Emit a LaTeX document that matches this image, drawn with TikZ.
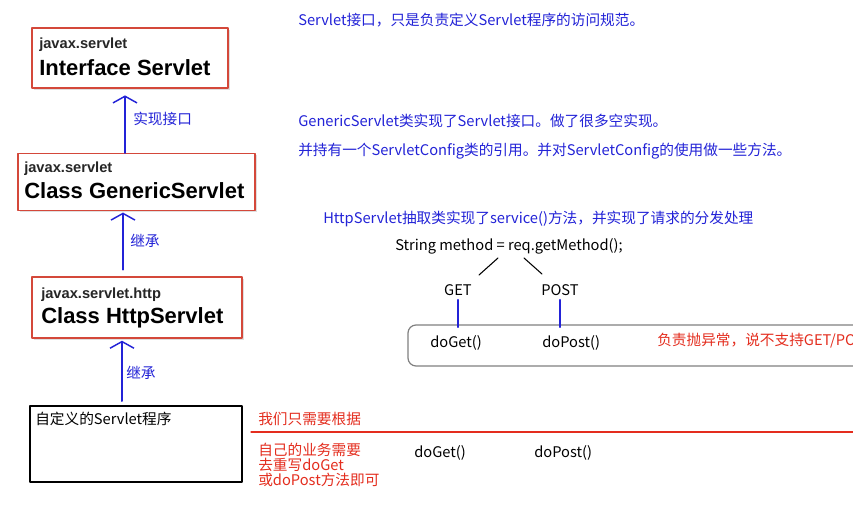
\documentclass[tikz,border=0pt]{standalone}
\usepackage{fontspec}
\setmainfont{Liberation Sans}
\newfontfamily\cjk{Noto Sans CJK SC}
\usetikzlibrary{arrows.meta,shadows}

\definecolor{noteblue}{RGB}{35,35,215}
\definecolor{notered}{RGB}{228,45,30}
\definecolor{boxred}{RGB}{212,72,58}

\begin{document}
\begin{tikzpicture}[x=0.75pt,y=-0.75pt,line cap=round,line join=round,
  classbox/.style={draw=boxred,line width=1.1pt,fill=white,inner sep=0pt,
    drop shadow={opacity=0.25,shadow xshift=1.5pt,shadow yshift=-1.5pt}},
  pkg/.style={anchor=base west,inner sep=0pt,text=black!85,font=\bfseries\fontsize{11}{12}\selectfont},
  cls/.style={anchor=base west,inner sep=0pt,font=\bfseries\fontsize{16.5}{19}\selectfont},
  note/.style={anchor=west,inner sep=0pt,font=\cjk\fontsize{11}{12}\selectfont},
  inh/.style={-{Straight Barb[length=5pt,width=18pt,line width=1.1pt]},noteblue,line width=1.5pt},
  vline/.style={noteblue,line width=1.4pt}]
  \useasboundingbox (0,0) rectangle (853,516);
  \clip (0,0) rectangle (853,516);
  \fill[white] (0,0) rectangle (853,516);

  % class hierarchy
  \node[classbox,minimum width=147pt,minimum height=45pt] (servlet) at (130,58) {};
  \node[pkg] (servletpkg) at (39,49) {javax.servlet};
  \node[cls] (servletname) at (39,76) {Interface Servlet};

  \node[classbox,minimum width=177.75pt,minimum height=42.75pt] (generic) at (136.5,182) {};
  \node[pkg] (genericpkg) at (24,173) {javax.servlet};
  \node[cls] (genericname) at (24,199) {Class GenericServlet};

  \node[classbox,minimum width=157.5pt,minimum height=45.75pt] (http) at (137,307.5) {};
  \node[pkg] (httppkg) at (41,299) {javax.servlet.http};
  \node[cls] (httpname) at (41,324) {Class HttpServlet};

  \node[draw=black,line width=1.5pt,minimum width=159pt,minimum height=57pt] (custom) at (136,444) {};
  \node[note] (customname) at (35,419) {自定义的Servlet程序};

  \coordinate (a1) at (125,0);
  \coordinate (a2) at (123,0);
  \coordinate (a3) at (122,0);
  \draw[inh,shorten >=5pt] (generic.north -| a1) -- (servlet.south -| a1);
  \draw[inh,shorten <=5pt,shorten >=1pt] (http.north -| a2) -- (generic.south -| a2);
  \draw[inh,shorten <=3pt,shorten >=1.5pt] (custom.north -| a3) -- (http.south -| a3);
  \node[note,noteblue] (impl) at (133,119) {实现接口};
  \node[note,noteblue] (ext1) at (130,241) {继承};
  \node[note,noteblue] (ext2) at (126,373) {继承};

  % notes
  \node[note,noteblue] (n1) at (298,20) {Servlet接口，只是负责定义Servlet程序的访问规范。};
  \node[note,noteblue] (n2) at (298,121) {GenericServlet类实现了Servlet接口。做了很多空实现。};
  \node[note,noteblue] (n3) at (298,151) {并持有一个ServletConfig类的引用。并对ServletConfig的使用做一些方法。};
  \node[note,noteblue] (n4) at (323,219) {HttpServlet抽取类实现了service()方法，并实现了请求的分发处理};

  % dispatch
  \node[note] (call) at (395,246) {String method = req.getMethod();};
  \node[note,anchor=center] (get) at (458,290) {GET};
  \node[note,anchor=center] (post) at (560,290) {POST};
  \coordinate (gtop) at (498,258);
  \coordinate (gend) at (479,275);
  \coordinate (ptop) at (524,258);
  \coordinate (pend) at (542,274);
  \draw[line width=0.8pt] (gtop) -- (gend);
  \draw[line width=0.8pt] (ptop) -- (pend);

  \node[draw=gray,line width=0.9pt,rounded corners=6pt,minimum width=354pt,minimum height=30.75pt] (dispatch) at (644,345.5) {};
  \node[note] (doget) at (430,343) {doGet()};
  \node[note] (dopost) at (542,343) {doPost()};
  \node[note,notered] (reject) at (657,341) {负责抛异常，说不支持GET/POST};
  \draw[vline,shorten <=3pt,shorten >=-2pt] (get.south) -- (get.south |- dispatch.north);
  \draw[vline,shorten <=3pt,shorten >=-2pt] (post.south) -- (post.south |- dispatch.north);

  % override hint
  \node[note,notered] (hint) at (258,419) {我们只需要根据};
  \draw[notered,line width=0.8pt] (251,432) -- (853,432);
  \node[note,notered] (hint1) at (258,450) {自己的业务需要};
  \node[note,notered] (hint2) at (258,465) {去重写doGet};
  \node[note,notered] (hint3) at (258,480) {或doPost方法即可};
  \node[note] (doget2) at (414,453) {doGet()};
  \node[note] (dopost2) at (534,453) {doPost()};
\end{tikzpicture}
\end{document}
